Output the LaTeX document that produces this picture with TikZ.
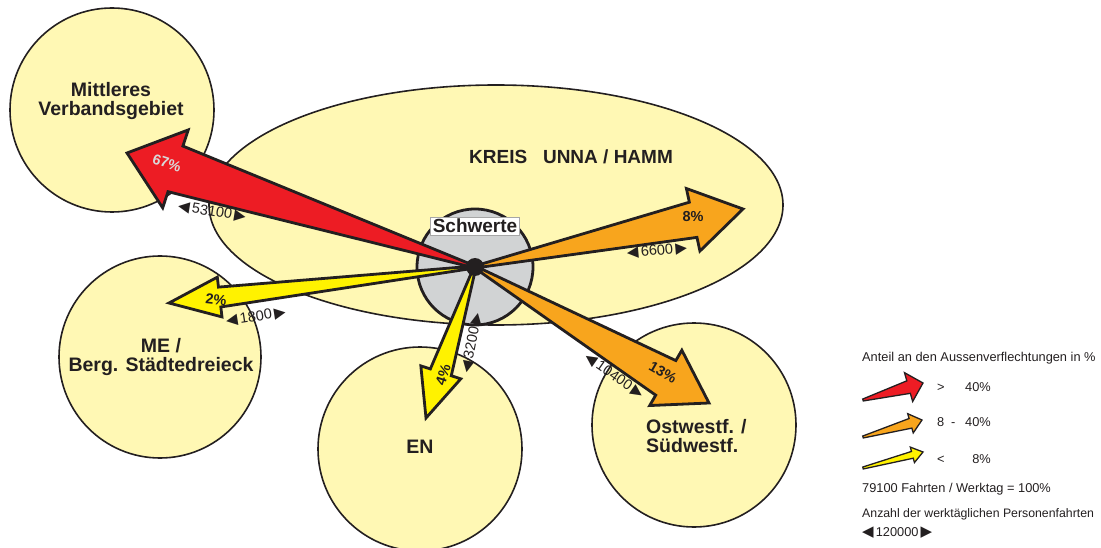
\documentclass[tikz,border=0pt]{standalone}
\usepackage{fontspec}
\setmainfont{Liberation Sans}
\newfontfamily\symfont{DejaVu Sans}
\usetikzlibrary{calc}

\definecolor{areafill}{HTML}{FFF8B4}
\definecolor{hubgray}{HTML}{D1D3D4}
\definecolor{inkblack}{HTML}{231F20}
\definecolor{flowred}{HTML}{ED1C24}
\definecolor{floworange}{HTML}{F8A51D}
\definecolor{flowyellow}{HTML}{FFF200}
\definecolor{pctgray}{HTML}{D9D9D9}

% [style] from, to, shaft half width, head half width, head length, fill
\newcommand{\flowarrow}[7][]{%
  \coordinate (#3-base) at ($(#3)!#6!(#2)$);
  \draw[flow, fill=#7, #1] ($(#2)!1pt!90:(#3)$)
    -- ($(#3-base)!#4!90:(#3)$) -- ($(#3-base)!#5!90:(#3)$)
    -- (#3)
    -- ($(#3-base)!#5!-90:(#3)$) -- ($(#3-base)!#4!-90:(#3)$)
    -- ($(#2)!1pt!-90:(#3)$) -- cycle;
}
\newcommand{\tri}[1]{{\symfont\fontsize{15}{15}\selectfont#1}}

\begin{document}
\begin{tikzpicture}[
  x=1pt, y=-1pt,
  area/.style={draw=inkblack, line width=1.6pt, fill=areafill},
  region/.style={font=\fontsize{19.5}{18.5}\selectfont\bfseries, text=inkblack, align=center, inner sep=0pt},
  flow/.style={draw=inkblack, line width=2.8pt, line join=miter},
  pct/.style={font=\fontsize{14.5}{14.5}\selectfont\bfseries, text=inkblack, inner sep=0pt},
  count/.style={font=\fontsize{14.5}{14.5}\selectfont, text=inkblack, inner sep=0pt},
  legend/.style={font=\fontsize{12.8}{13}\selectfont, text=inkblack, inner sep=0pt, anchor=base west}
]
\useasboundingbox (0,0) rectangle (1101,548);

% Regions
\draw[area] (112,110) circle[radius=102];
\draw[area] (496,205) ellipse[x radius=287, y radius=120];
\draw[area] (160,357) circle[radius=101];
\draw[area] (420,449) circle[radius=102];
\draw[area] (694,425) circle[radius=102];

\node[region] (mvg) at (111,101) {Mittleres\\Verbandsgebiet};
\node[region, font=\fontsize{19}{19}\selectfont\bfseries] (kreis) at (571,157) {KREIS\ \ \ UNNA / HAMM};
\node[region] (me) at (161,357) {ME /\\Berg. Städtedreieck};
\node[region] (en) at (420,447) {EN};
\node[region, align=left, anchor=west] (ow) at (646,436) {Ostwestf. /\\Südwestf.};

% Schwerte
\draw[draw=inkblack, line width=2.8pt, fill=hubgray] (475,267) circle[radius=58];
\node[region, fill=white, draw=gray!70, line width=0.6pt, inner sep=2pt, font=\fontsize{19}{19}\selectfont\bfseries] (schwerte) at (475,226) {Schwerte};

% Flows
\coordinate (hub) at (475,267);
\coordinate (tip-mvg) at (127,153);
\coordinate (tip-kreis) at (743,209);
\coordinate (tip-me) at (169,303);
\coordinate (tip-en) at (426,418);
\coordinate (tip-ow) at (709,403);

\flowarrow{hub}{tip-mvg}{24pt}{41pt}{51pt}{flowred}
\flowarrow{hub}{tip-kreis}{18pt}{32pt}{51pt}{floworange}
\flowarrow{hub}{tip-ow}{20pt}{32pt}{50pt}{floworange}
\flowarrow{hub}{tip-me}{10pt}{20pt}{51pt}{flowyellow}
\flowarrow{hub}{tip-en}{11pt}{21pt}{48pt}{flowyellow}

\fill[inkblack] (hub) circle[radius=9];

% Shares
\node[pct, text=pctgray, rotate=-18] at (167,163) {67\%};
\node[pct] at (693,217) {8\%};
\node[pct, rotate=-6] at (216,300) {2\%};
\node[pct, rotate=72] at (443,375) {4\%};
\node[pct, rotate=-30] at (663,372) {13\%};

% Trips
\node[count, rotate=-9] at (212,212) {\tri{◀}\,53100\,\tri{▶}};
\node[count, rotate=5] at (657,251) {\tri{◀}\,6600\,\tri{▶}};
\node[count, rotate=9] at (256,317) {\tri{◀}\,1800\,\tri{▶}};
\node[count, rotate=79] at (472,343) {\tri{◀}\,3200\,\tri{▶}};
\node[count, rotate=-35] at (614,376) {\tri{◀}\,10400\,\tri{▶}};

% Legend
\node[legend] (legtitle) at (862,361) {Anteil an den Aussenverflechtungen in \%};

\coordinate (lr-a) at (863,400); \coordinate (lr-b) at (923,383);
\coordinate (lo-a) at (863,437); \coordinate (lo-b) at (922,420);
\coordinate (ly-a) at (863,468); \coordinate (ly-b) at (923,452);
\flowarrow[line width=1.3pt]{lr-a}{lr-b}{6.5pt}{15pt}{15pt}{flowred}
\flowarrow[line width=1.3pt]{lo-a}{lo-b}{5pt}{10pt}{12pt}{floworange}
\flowarrow[line width=1.3pt]{ly-a}{ly-b}{3.5pt}{8pt}{11pt}{flowyellow}

\node[legend] at (937,391) {>};
\node[legend, anchor=base east] at (991,391) {40\%};
\node[legend] at (937,426) {8};
\node[legend] at (951,426) {-};
\node[legend, anchor=base east] at (991,426) {40\%};
\node[legend] at (937,463) {<};
\node[legend, anchor=base east] at (991,463) {8\%};

\node[legend] at (862,492) {79100 Fahrten / Werktag = 100\%};
\node[legend, font=\fontsize{12.3}{13}\selectfont] at (862,517) {Anzahl der werktäglichen Personenfahrten};
\node[legend] at (862,536) {\tri{◀}\,120000\,\tri{▶}};
\end{tikzpicture}
\end{document}
